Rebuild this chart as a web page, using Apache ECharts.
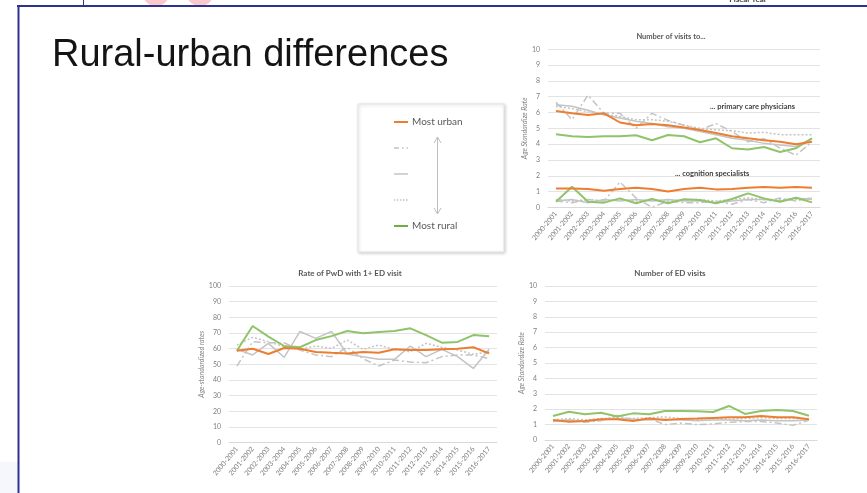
<!DOCTYPE html>
<html>
<head>
<meta charset="utf-8">
<script src="https://cdn.jsdelivr.net/npm/echarts@6/dist/echarts.min.js"></script>
<style>
  html, body { margin: 0; padding: 0; background: #fff; }
  #slide { width: 867px; height: 493px; }
</style>
</head>
<body>
<div id="slide"></div>
<script>
// Fiscal years shared by all three panels
const years = ['2000-2001','2001-2002','2002-2003','2003-2004','2004-2005','2005-2006','2006-2007','2007-2008','2008-2009','2009-2010','2010-2011','2011-2012','2012-2013','2013-2014','2014-2015','2015-2016','2016-2017'];

// Panel 1: visits to primary care physicians (age-standardized rate)
const pcpUrban   = [6.1, 5.95, 5.85, 5.95, 5.37, 5.2, 5.27, 5.2, 5.05, 4.9, 4.7, 4.5, 4.37, 4.25, 4.15, 4.0, 4.15];
const pcpQ2      = [6.65, 5.55, 7.1, 5.95, 5.95, 5.0, 5.95, 5.5, 5.2, 4.9, 5.3, 4.8, 4.15, 4.35, 3.75, 3.3, 4.15];
const pcpQ3      = [6.5, 6.4, 6.15, 5.85, 5.65, 5.45, 5.3, 5.1, 5.0, 4.8, 4.6, 4.37, 4.25, 4.05, 3.95, 3.85, 4.37];
const pcpQ4      = [6.4, 6.25, 6.05, 5.9, 5.75, 5.55, 5.55, 5.45, 5.2, 5.0, 4.9, 4.85, 4.7, 4.75, 4.6, 4.6, 4.6];
const pcpRural   = [4.62, 4.5, 4.46, 4.5, 4.5, 4.56, 4.25, 4.58, 4.5, 4.12, 4.37, 3.74, 3.66, 3.82, 3.5, 3.74, 4.37];

// Panel 1: visits to cognition specialists
const cogUrban   = [1.2, 1.2, 1.17, 1.06, 1.17, 1.25, 1.17, 1.0, 1.17, 1.25, 1.14, 1.17, 1.25, 1.29, 1.25, 1.29, 1.25];
const cogQ2      = [0.4, 0.3, 0.5, 0.4, 1.6, 0.6, 0.0, 0.4, 0.3, 0.3, 0.4, 0.2, 0.5, 0.3, 0.6, 0.4, 0.6];
const cogQ3      = [0.4, 0.5, 0.3, 0.5, 0.4, 0.5, 0.4, 0.5, 0.4, 0.4, 0.3, 0.4, 0.5, 0.5, 0.4, 0.6, 0.5];
const cogQ4      = [0.5, 0.4, 0.5, 0.4, 0.5, 0.4, 0.5, 0.4, 0.5, 0.5, 0.4, 0.5, 0.6, 0.5, 0.5, 0.5, 0.6];
const cogRural   = [0.36, 1.31, 0.36, 0.3, 0.57, 0.26, 0.53, 0.26, 0.51, 0.47, 0.26, 0.53, 0.89, 0.57, 0.36, 0.61, 0.32];

// Panel 2: rate of people with dementia with 1+ ED visit
const edRateUrban = [58.7, 60, 56.6, 60.4, 60, 57.9, 57.4, 57, 57.9, 57.4, 59.6, 59.1, 59.1, 59.6, 60, 60.9, 57];
const edRateQ2    = [48.9, 64.5, 63.8, 63.8, 59.1, 56, 54.9, 60.9, 53.6, 48.9, 52.8, 51.5, 51, 54.9, 56, 56, 53.6];
const edRateQ3    = [59.6, 56, 63.4, 54.5, 71, 66.6, 71, 56.6, 54.9, 53.2, 53.2, 61.7, 54.9, 59.6, 54.9, 47.4, 59.6];
const edRateQ4    = [62.3, 67.2, 64.5, 61.3, 59.6, 61.7, 60.2, 65.5, 59.6, 62.3, 59.6, 58, 63.4, 60.9, 59.1, 56.4, 58];
const edRateRural = [58.7, 74.5, 67.7, 61.7, 60.9, 65.5, 68, 71.3, 69.8, 70.6, 71.3, 73, 68.7, 63.8, 64.3, 68.7, 68];

// Panel 3: number of ED visits
const edNumUrban = [1.3, 1.19, 1.23, 1.34, 1.34, 1.23, 1.39, 1.3, 1.37, 1.39, 1.43, 1.47, 1.47, 1.56, 1.47, 1.47, 1.34];
const edNumQ2    = [1.2, 1.3, 1.15, 1.25, 1.6, 1.3, 1.4, 1.0, 1.1, 1.0, 1.05, 1.15, 1.2, 1.2, 1.1, 0.95, 1.3];
const edNumQ3    = [1.25, 1.3, 1.2, 1.3, 1.4, 1.35, 1.3, 1.35, 1.3, 1.25, 1.3, 1.3, 1.25, 1.3, 1.25, 1.25, 1.3];
const edNumQ4    = [1.3, 1.4, 1.3, 1.4, 1.45, 1.4, 1.45, 1.5, 1.4, 1.35, 1.4, 1.35, 1.4, 1.45, 1.4, 1.4, 1.35];
const edNumRural = [1.56, 1.84, 1.67, 1.77, 1.52, 1.73, 1.67, 1.88, 1.88, 1.86, 1.82, 2.21, 1.69, 1.88, 1.95, 1.88, 1.58];

const ORANGE = '#ED7D31';
const GREEN = '#8FC46A';
const GREY = '#C4C4C4';
const TXT = '#595959';
const FRAME = '#2E3192';
const FONT = 'Lato, "Open Sans", sans-serif';

// Line styles for the five rurality groups, urban to rural
const groupStyles = [
  { color: ORANGE, width: 2, type: 'solid', z: 5 },
  { color: GREY, width: 1.5, type: [7, 3, 2, 3], z: 2 },
  { color: GREY, width: 1.5, type: 'solid', z: 2 },
  { color: GREY, width: 1.5, type: [2, 2], z: 2 },
  { color: GREEN, width: 2, type: 'solid', z: 4 }
];

function lines(idx, arrays) {
  return arrays.map((d, k) => ({
    type: 'line',
    xAxisIndex: idx,
    yAxisIndex: idx,
    data: d,
    symbol: 'none',
    silent: true,
    animation: false,
    z: groupStyles[k].z,
    lineStyle: { color: groupStyles[k].color, width: groupStyles[k].width, type: groupStyles[k].type }
  }));
}

function xAxis(gridIndex) {
  return {
    type: 'category',
    gridIndex,
    data: years,
    boundaryGap: true,
    axisLine: { lineStyle: { color: '#D9D9D9' } },
    axisTick: { show: false },
    axisLabel: { rotate: 50, interval: 0, fontSize: 7, color: '#7F7F7F', fontFamily: FONT, margin: 5 }
  };
}

function yAxis(gridIndex, max, interval, name, nameGap) {
  return {
    type: 'value',
    gridIndex,
    min: 0,
    max,
    interval,
    name,
    nameLocation: 'middle',
    nameGap,
    nameTextStyle: { fontSize: 7, color: '#7F7F7F', fontStyle: 'italic', fontFamily: FONT },
    axisLine: { show: false },
    axisTick: { show: false },
    axisLabel: { fontSize: 7, color: '#7F7F7F', fontFamily: FONT, margin: 8 },
    splitLine: { lineStyle: { color: '#E3E3E3', width: 1 } }
  };
}

const chart = echarts.init(document.getElementById('slide'), null, { renderer: 'canvas' });

const legendX = 394, legendY0 = 122, legendStep = 26;

chart.setOption({
  backgroundColor: '#ffffff',
  animation: false,
  title: [
    { text: 'Number of visits to...', left: 666, top: 28, textAlign: 'center',
      textStyle: { fontSize: 7.5, fontWeight: 'bold', color: TXT, fontFamily: FONT } },
    { text: 'Rate of PwD with 1+ ED visit', left: 345, top: 264, textAlign: 'center',
      textStyle: { fontSize: 8, fontWeight: 'bold', color: TXT, fontFamily: FONT } },
    { text: 'Number of ED visits', left: 665, top: 264, textAlign: 'center',
      textStyle: { fontSize: 8, fontWeight: 'bold', color: TXT, fontFamily: FONT } }
  ],
  grid: [
    { left: 548, right: 47, top: 49.3, bottom: 285.6 },
    { left: 229, right: 370, top: 286, bottom: 50.3 },
    { left: 545, right: 50, top: 286, bottom: 53 }
  ],
  xAxis: [xAxis(0), xAxis(1), xAxis(2)],
  yAxis: [
    yAxis(0, 10, 1, 'Age Standardize Rate', 17),
    yAxis(1, 100, 10, 'Age-standardized rates', 21),
    yAxis(2, 10, 1, 'Age Standardize Rate', 17)
  ],
  series: [
    ...lines(0, [pcpUrban, pcpQ2, pcpQ3, pcpQ4, pcpRural]),
    ...lines(0, [cogUrban, cogQ2, cogQ3, cogQ4, cogRural]),
    ...lines(1, [edRateUrban, edRateQ2, edRateQ3, edRateQ4, edRateRural]),
    ...lines(2, [edNumUrban, edNumQ2, edNumQ3, edNumQ4, edNumRural])
  ],
  graphic: [
    // slide frame and remnants of the slide above
    { type: 'circle', shape: { cx: 156, cy: -8, r: 14 }, style: { fill: '#F9C9CC' }, z: 1 },
    { type: 'circle', shape: { cx: 200, cy: -8, r: 14 }, style: { fill: '#F9C9CC' }, z: 1 },
    { type: 'text', x: 748, y: -5, style: { text: 'Fiscal Year', fontSize: 8, fontWeight: 'bold', fill: '#404040', fontFamily: FONT, align: 'center' }, z: 1 },
    { type: 'rect', shape: { x: 0, y: 462, width: 18, height: 31 }, style: { fill: '#F6F7FC' }, z: 1 },
    { type: 'line', shape: { x1: 83.5, y1: 0, x2: 83.5, y2: 6 }, style: { stroke: FRAME, lineWidth: 1 }, z: 3 },
    { type: 'line', shape: { x1: 17, y1: 6, x2: 867, y2: 6 }, style: { stroke: FRAME, lineWidth: 2 }, z: 3 },
    { type: 'line', shape: { x1: 18.5, y1: 6, x2: 18.5, y2: 493 }, style: { stroke: FRAME, lineWidth: 2 }, z: 3 },

    // slide heading
    { type: 'text', x: 52, y: 37, style: { text: 'Rural-urban differences', fontSize: 38, fill: '#141414', fontFamily: '"Liberation Sans", Arial, sans-serif' } },

    // rurality legend
    { type: 'rect', shape: { x: 358, y: 104, width: 146, height: 148 },
      style: { fill: '#fff', stroke: '#E4E4E4', lineWidth: 1, shadowBlur: 3, shadowOffsetX: 1, shadowOffsetY: 1, shadowColor: 'rgba(0,0,0,0.18)' } },
    ...groupStyles.map((s, k) => ({
      type: 'line',
      shape: { x1: legendX, y1: legendY0 + k * legendStep, x2: legendX + 14, y2: legendY0 + k * legendStep },
      style: { stroke: k === 4 ? '#70AD47' : s.color, lineWidth: k === 0 || k === 4 ? 2 : 1.5, lineDash: k === 1 ? [5, 3, 1.5, 3] : (k === 3 ? [1.5, 1.5] : null) },
      z: 10
    })),
    { type: 'text', x: 412, y: legendY0, style: { text: 'Most urban', fontSize: 10, fill: TXT, fontFamily: FONT, verticalAlign: 'middle' }, z: 10 },
    { type: 'text', x: 412, y: legendY0 + 4 * legendStep, style: { text: 'Most rural', fontSize: 10, fill: TXT, fontFamily: FONT, verticalAlign: 'middle' }, z: 10 },
    { type: 'line', shape: { x1: 437.5, y1: 138, x2: 437.5, y2: 213 }, style: { stroke: '#BDBDBD', lineWidth: 1 }, z: 10 },
    { type: 'polyline', shape: { points: [[434, 143], [437.5, 137], [441, 143]] }, style: { stroke: '#BDBDBD', lineWidth: 1, fill: null }, z: 10 },
    { type: 'polyline', shape: { points: [[434, 208], [437.5, 214], [441, 208]] }, style: { stroke: '#BDBDBD', lineWidth: 1, fill: null }, z: 10 },

    // panel annotations
    { type: 'text', x: 710, y: 107, style: { text: '... primary care physicians', fontSize: 7.5, fontWeight: 'bold', fill: '#404040', fontFamily: FONT, verticalAlign: 'middle' }, z: 10 },
    { type: 'text', x: 675, y: 174, style: { text: '... cognition specialists', fontSize: 7.5, fontWeight: 'bold', fill: '#404040', fontFamily: FONT, verticalAlign: 'middle' }, z: 10 }
  ]
});
</script>
</body>
</html>
